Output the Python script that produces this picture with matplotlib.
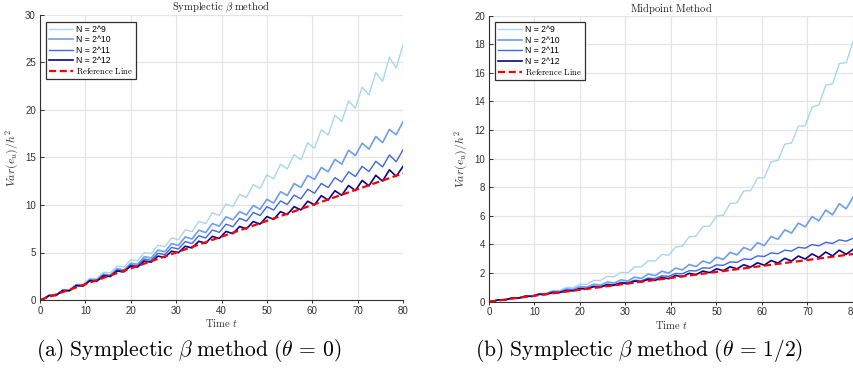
import matplotlib
matplotlib.use("Agg")
import matplotlib.pyplot as plt

plt.rcParams['mathtext.fontset'] = 'cm'
plt.rcParams['font.family'] = ['Liberation Sans', 'DejaVu Sans']

# time samples (peaks / troughs of the ripples)
t = [0, 0.5, 2, 3.5, 5, 6.5, 8, 9.5, 11, 12.5, 14, 15.5, 17, 18.5, 20, 21.5,
     23, 24.5, 26, 27.5, 29, 30.5, 32, 33.5, 35, 36.5, 38, 39.5, 41, 42.5, 44,
     45.5, 47, 48.5, 50, 51.5, 53, 54.5, 56, 57.5, 59, 60.5, 62, 63.5, 65, 66.5,
     68, 69.5, 71, 72.5, 74, 75.5, 77, 78.5, 80]
ref_t = [0, 80]

# (a) symplectic beta method
a_n9 = [0, 0.02, 0.51, 0.53, 1.09, 1.09, 1.68, 1.64, 2.28, 2.25, 2.93, 2.86,
        3.58, 3.47, 4.22, 4.14, 4.99, 4.87, 5.77, 5.60, 6.54, 6.35, 7.39, 7.19,
        8.28, 8.04, 9.18, 8.88, 10.12, 9.83, 11.13, 10.79, 12.15, 11.75, 13.17,
        12.76, 14.28, 13.80, 15.30, 14.75, 16.55, 15.98, 17.92, 17.38, 19.45,
        18.78, 20.95, 20.18, 22.40, 21.60, 23.95, 23.02, 25.55, 24.42, 26.85]
a_n10 = [0, 0.02, 0.49, 0.49, 1.05, 1.02, 1.60, 1.54, 2.16, 2.08, 2.73, 2.62,
         3.30, 3.16, 3.87, 3.76, 4.56, 4.42, 5.25, 5.08, 5.94, 5.74, 6.64, 6.42,
         7.35, 7.09, 8.05, 7.77, 8.76, 8.44, 9.30, 8.95, 9.95, 9.55, 10.60,
         10.20, 11.40, 11.00, 12.25, 11.85, 13.10, 12.70, 13.95, 13.50, 14.80,
         14.30, 15.76, 15.21, 16.51, 15.89, 17.21, 16.57, 17.95, 17.40, 18.75]
a_n11 = [0, 0.02, 0.48, 0.48, 1.02, 0.99, 1.55, 1.50, 2.09, 2.02, 2.63, 2.53,
         3.16, 3.04, 3.70, 3.59, 4.31, 4.18, 4.92, 4.77, 5.54, 5.36, 6.15, 5.95,
         6.76, 6.53, 7.37, 7.12, 7.98, 7.71, 8.60, 8.30, 9.21, 8.89, 9.82, 9.47,
         10.43, 10.06, 11.04, 10.65, 11.66, 11.24, 12.27, 11.83, 12.88, 12.41,
         13.49, 13.00, 14.07, 13.52, 14.60, 14.01, 15.26, 14.56, 15.80]
a_n12 = [0, 0.02, 0.47, 0.47, 0.99, 0.97, 1.51, 1.47, 2.03, 1.97, 2.54, 2.47,
         3.06, 2.97, 3.58, 3.47, 4.10, 3.98, 4.62, 4.48, 5.14, 4.98, 5.66, 5.48,
         6.18, 5.98, 6.70, 6.48, 7.22, 6.98, 7.74, 7.49, 8.26, 7.99, 8.78, 8.49,
         9.30, 8.99, 9.82, 9.49, 10.40, 10.02, 10.98, 10.52, 11.50, 11.02, 12.05,
         11.52, 12.58, 12.02, 13.12, 12.52, 13.70, 13.02, 14.05]
a_ref = [0, 13.33]

# (b) midpoint method
b_n9 = [0, 0.01, 0.12, 0.12, 0.26, 0.25, 0.40, 0.38, 0.57, 0.58, 0.78, 0.78,
        1.00, 0.98, 1.22, 1.22, 1.49, 1.48, 1.77, 1.74, 2.05, 2.02, 2.43, 2.43,
        2.86, 2.84, 3.30, 3.25, 3.82, 3.89, 4.54, 4.58, 5.26, 5.28, 5.98, 6.05,
        6.87, 6.90, 7.75, 7.76, 8.64, 8.67, 9.77, 9.88, 11.01, 11.09, 12.26,
        12.30, 13.60, 13.74, 15.12, 15.22, 16.64, 16.70, 18.17]
b_n10 = [0, 0.01, 0.12, 0.12, 0.26, 0.25, 0.40, 0.39, 0.55, 0.54, 0.72, 0.70,
         0.89, 0.86, 1.06, 1.01, 1.22, 1.15, 1.38, 1.30, 1.53, 1.44, 1.72, 1.63,
         1.93, 1.82, 2.13, 2.00, 2.35, 2.22, 2.60, 2.45, 2.85, 2.68, 3.11, 2.95,
         3.45, 3.27, 3.79, 3.59, 4.13, 3.92, 4.56, 4.36, 5.02, 4.80, 5.49, 5.23,
         5.95, 5.65, 6.40, 6.07, 6.85, 6.49, 7.30]
b_n11 = [0, 0.01, 0.12, 0.13, 0.25, 0.26, 0.39, 0.39, 0.53, 0.53, 0.67, 0.66,
         0.80, 0.79, 0.94, 0.93, 1.08, 1.06, 1.22, 1.19, 1.35, 1.33, 1.50, 1.47,
         1.65, 1.62, 1.81, 1.77, 1.97, 1.95, 2.17, 2.15, 2.37, 2.34, 2.57, 2.54,
         2.78, 2.75, 2.99, 2.95, 3.20, 3.16, 3.41, 3.35, 3.60, 3.54, 3.80, 3.74,
         3.99, 3.90, 4.15, 4.07, 4.32, 4.23, 4.43]
b_n12 = [0, 0.01, 0.12, 0.12, 0.25, 0.25, 0.38, 0.37, 0.51, 0.50, 0.64, 0.63,
         0.78, 0.76, 0.91, 0.89, 1.05, 1.01, 1.18, 1.14, 1.31, 1.26, 1.44, 1.38,
         1.57, 1.49, 1.69, 1.61, 1.83, 1.75, 1.98, 1.89, 2.14, 2.03, 2.30, 2.17,
         2.44, 2.30, 2.58, 2.42, 2.72, 2.55, 2.88, 2.70, 3.03, 2.84, 3.19, 2.98,
         3.34, 3.09, 3.47, 3.20, 3.60, 3.31, 3.66]
b_ref = [0, 3.33]

labels = ['N = 2^9', 'N = 2^10', 'N = 2^11', 'N = 2^12']
colors = ['#a8d8e8', '#6e9cf0', '#3f66e0', '#06068c']
widths = [1.0, 1.2, 1.0, 1.2]

fig = plt.figure(figsize=(8.54, 3.68), dpi=100)
ax1 = fig.add_axes([40/854, 68/368, 363/854, 285/368])
ax2 = fig.add_axes([489/854, 66.3/368, 364/854, 286.2/368])


def panel(ax, series, ref, title, ymax, ystep):
    for y, lab, c, w in zip(series, labels, colors, widths):
        ax.plot(t, y, color=c, lw=w, label=lab, solid_joinstyle='round')
    ax.plot(ref_t, ref, color='#ff0000', lw=1.6, ls=(0, (3.2, 1.6)),
            label=r'$\mathrm{Reference\ Line}$')
    ax.set_xlim(0, 80)
    ax.set_ylim(0, ymax)
    ax.set_xticks(range(0, 81, 10))
    ax.set_yticks(range(0, ymax + 1, ystep))
    ax.grid(True, color='#e4e4e4', lw=0.9)
    ax.set_axisbelow(True)
    for s in ['top', 'right']:
        ax.spines[s].set_visible(False)
    for s in ['left', 'bottom']:
        ax.spines[s].set_color('#303030')
        ax.spines[s].set_linewidth(0.8)
    ax.tick_params(axis='x', direction='out', length=2.5, width=0.7,
                   labelsize=7, colors='#303030', pad=1.5)
    ax.tick_params(axis='y', direction='in', length=3, width=0.7,
                   labelsize=7, colors='#303030', pad=3)
    ax.set_title(title, fontsize=7.6, pad=2, color='#202020')
    ax.set_xlabel(r'$\mathrm{Time}\ t$', fontsize=7.6, labelpad=1,
                  color='#303030')
    ax.set_ylabel(r'$Var(e_u)/h^2$', fontsize=8.5, labelpad=3,
                  color='#303030')
    leg = ax.legend(loc='upper left', bbox_to_anchor=(0.0165, 0.976),
                    borderaxespad=0, fontsize=6.2, handlelength=2.8,
                    handletextpad=0.35, labelspacing=0.16, borderpad=0.35,
                    fancybox=False, framealpha=1, edgecolor='#303030')
    leg.get_frame().set_linewidth(0.9)


panel(ax1, [a_n9, a_n10, a_n11, a_n12], a_ref,
      r'$\mathrm{Symplectic}\ \beta\ \mathrm{method}$', 30, 5)
panel(ax2, [b_n9, b_n10, b_n11, b_n12], b_ref,
      r'$\mathrm{Midpoint\ Method}$', 20, 2)

fig.text(189/854, 18/368,
         r'$\mathrm{(a)\ Symplectic}\ \beta\ \mathrm{method}\ (\theta\,=\,0)$',
         fontsize=15.5, ha='center', va='center')
fig.text(639/854, 18/368,
         r'$\mathrm{(b)\ Symplectic}\ \beta\ \mathrm{method}\ (\theta\,=\,1/2)$',
         fontsize=15.5, ha='center', va='center')

fig.savefig('out.png', dpi=100)
